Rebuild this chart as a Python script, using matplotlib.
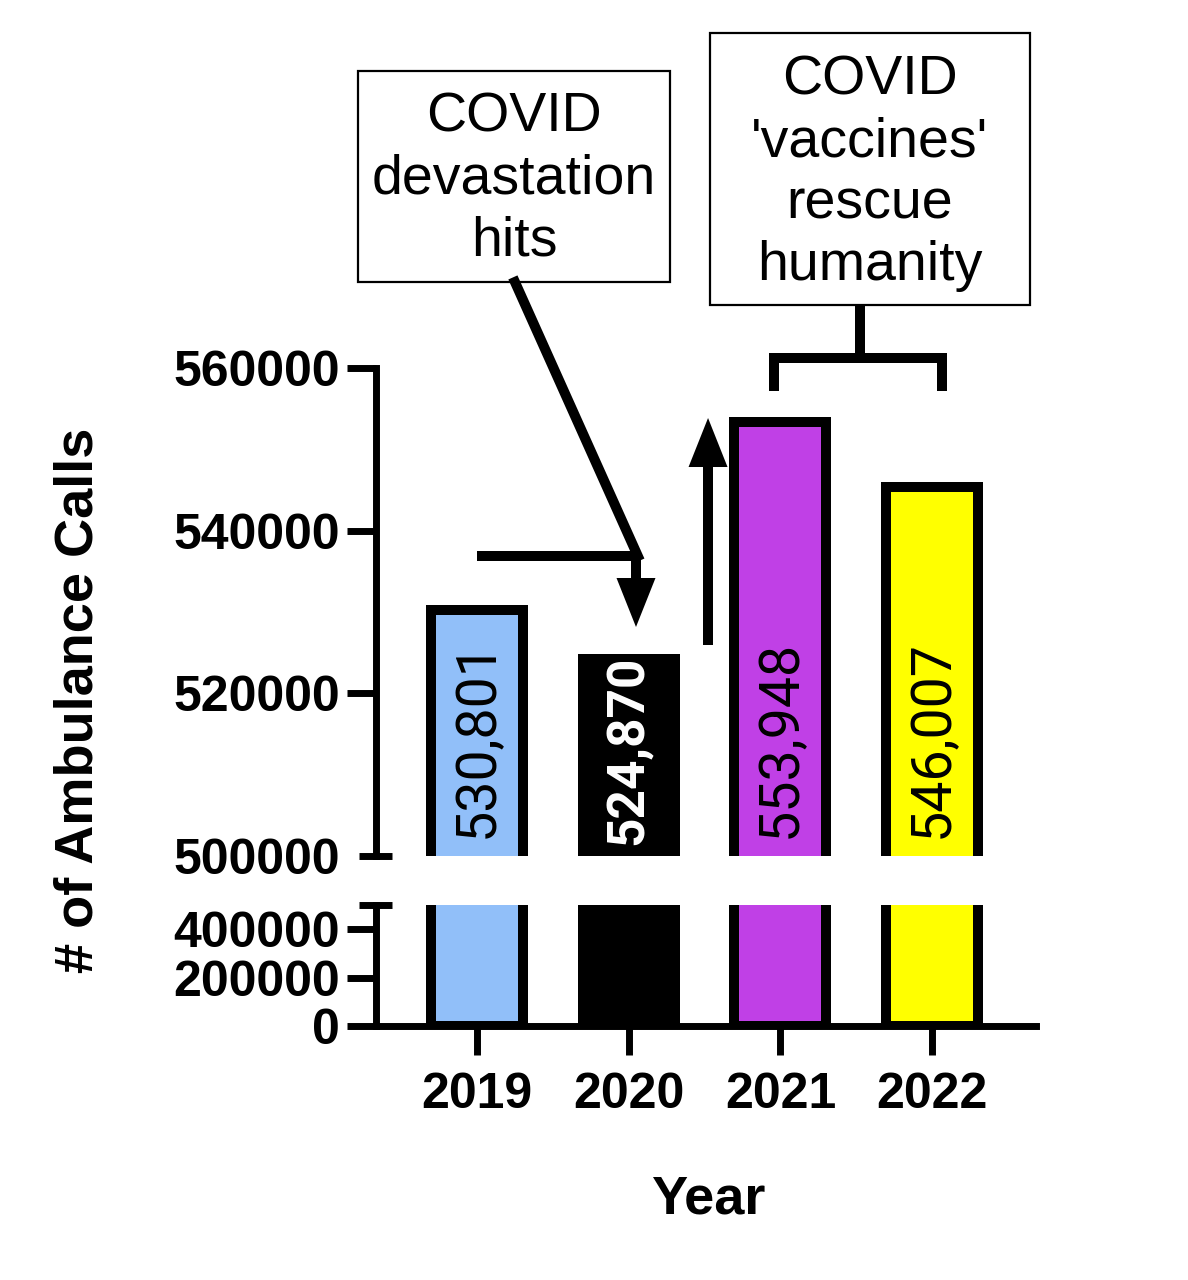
import matplotlib
matplotlib.use("Agg")
import matplotlib.pyplot as plt
from matplotlib.transforms import TransformedPath

plt.rcParams['font.family'] = ['Liberation Sans', 'DejaVu Sans']

years = ['2019', '2020', '2021', '2022']
calls = [530801, 524870, 553948, 546007]
labels = ['530,801', '524,870', '553,948', '546,007']
colors = ['#91BFF9', '#000000', '#C040E6', '#FFFF00']
top_ticks = [500000, 520000, 540000, 560000]
low_ticks = [0, 200000, 400000]

x = list(range(len(years)))
fig = plt.figure(figsize=(11.88, 12.8), dpi=100)

left, width = 376 / 1188, 660 / 1188
ax_top = fig.add_axes([left, 1 - 856 / 1280, width, 488 / 1280])
ax_low = fig.add_axes([left, 1 - 1026 / 1280, width, 121 / 1280])

xlim = (-0.666, 3.685)
bar_w = 0.672
spine_lw = 5
tick_len = 21

# top segment: border drawn inside the bar (double width, clipped to the bar)
bars = ax_top.bar(x, calls, width=bar_w, color=colors, edgecolor='black', linewidth=14.4)
for b in bars:
    b.set_clip_path(TransformedPath(b.get_path(), b.get_transform()))

# lower segment: plain centred border, bottom edge hides under the axis line
ax_low.bar(x, calls, width=bar_w - 0.066, color=colors, edgecolor='black', linewidth=7.2)

ax_top.set_xlim(*xlim)
ax_top.set_ylim(500000, 560000)
ax_top.set_yticks(top_ticks)
ax_top.set_yticklabels([str(t) for t in top_ticks], fontsize=36, fontweight='bold')
ax_top.set_xticks([])
for s in ['top', 'right', 'bottom']:
    ax_top.spines[s].set_visible(False)
ax_top.spines['left'].set_linewidth(spine_lw)
ax_top.tick_params(axis='y', length=tick_len, width=spine_lw, pad=5)
ax_top.yaxis.get_major_ticks()[0].tick1line.set_visible(False)

ax_low.set_xlim(*xlim)
ax_low.set_ylim(0, 500000)
ax_low.set_yticks(low_ticks)
ax_low.set_yticklabels([str(t) for t in low_ticks], fontsize=36, fontweight='bold')
ax_low.set_xticks(x)
ax_low.set_xticklabels(years, fontsize=36, fontweight='bold')
for s in ['top', 'right']:
    ax_low.spines[s].set_visible(False)
ax_low.spines['left'].set_linewidth(spine_lw)
ax_low.spines['bottom'].set_linewidth(spine_lw)
ax_low.tick_params(axis='both', length=tick_len, width=spine_lw)
ax_low.tick_params(axis='y', pad=5)
ax_low.tick_params(axis='x', pad=12)

# axis break caps
for ax in (ax_top, ax_low):
    ax.plot([-0.778, -0.560], [500000, 500000], color='black', lw=spine_lw,
            clip_on=False, solid_capstyle='butt')

# value labels inside bars
for i, (v, lab) in enumerate(zip(calls, labels)):
    white = colors[i] == '#000000'
    ax_top.text(i, 501400 if white else 502200, lab, rotation=90, ha='center', va='bottom',
                fontsize=37 if white else 40, family=['Roboto', 'DejaVu Sans'],
                fontweight='bold' if white else 'normal',
                color='white' if white else 'black')

# axis titles
fig.text(79 / 1188, 1 - 700 / 1280, '# of Ambulance Calls', rotation=90,
         ha='center', va='center', fontsize=39, fontweight='bold')
fig.text(708 / 1188, 1 - 1200 / 1280, 'Year', ha='center', va='center',
         fontsize=39, fontweight='bold')

# annotation boxes
lw = 7.2
ax_top.add_patch(plt.Rectangle((-0.784, 570574), 2.056, 25942, fill=False,
                               lw=1.6, edgecolor='black', clip_on=False))
ax_top.text(0.244, 583150, 'COVID\ndevastation\nhits', ha='center', va='center',
            fontsize=40, linespacing=1.25)
ax_top.add_patch(plt.Rectangle((1.536, 567746), 2.109, 33443, fill=False,
                               lw=1.6, edgecolor='black', clip_on=False))
ax_top.text(2.59, 583970, "COVID\n'vaccines'\nrescue\nhumanity", ha='center',
            va='center', fontsize=40, linespacing=1.25)


def arrow(xc, y_from, y_tip):
    head_w, head_h = 0.1285, 6025
    base = y_tip + head_h if y_tip < y_from else y_tip - head_h
    ax_top.plot([xc, xc], [y_from, base], color='black', lw=lw, clip_on=False,
                solid_capstyle='butt')
    ax_top.add_patch(plt.Polygon([(xc - head_w, base), (xc + head_w, base), (xc, y_tip)],
                                 closed=True, color='black', lw=0, clip_on=False))


# drop arrow to 2020
ax_top.plot([0.25, 1.06], [570574, 536885], color='black', lw=lw, clip_on=False)
ax_top.plot([0.0, 1.08], [536885, 536885], color='black', lw=lw, clip_on=False,
            solid_capstyle='butt')
arrow(1.048, 537300, 528156)

# rise arrow to 2021
arrow(1.523, 525943, 553852)

# bracket over 2021-2022
ax_top.plot([1.958, 1.958, 3.065, 3.065], [557172, 561230, 561230, 557172],
            color='black', lw=lw, clip_on=False, solid_joinstyle='miter',
            solid_capstyle='butt')
ax_top.plot([2.525, 2.525], [561230, 567746], color='black', lw=lw,
            clip_on=False, solid_capstyle='butt')

fig.savefig('out.png', dpi=100)
